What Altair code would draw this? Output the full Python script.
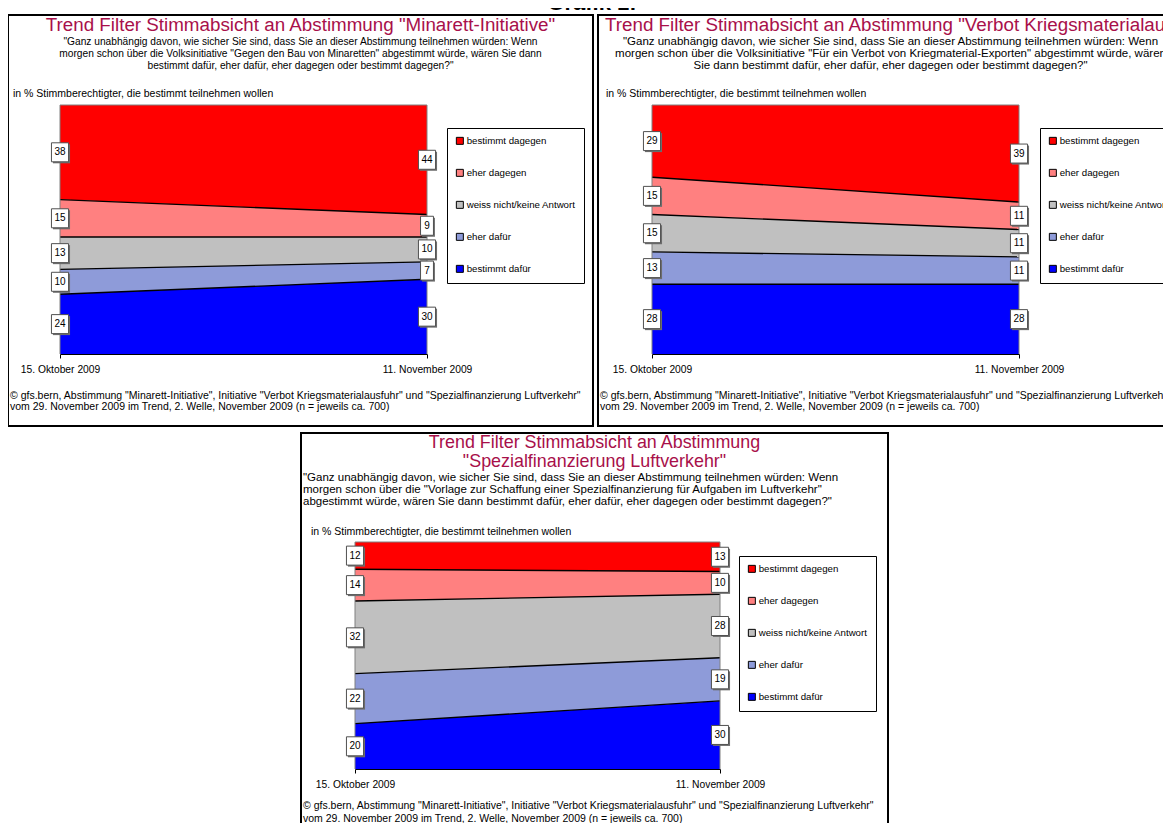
import altair as alt
import pandas as pd

FONT = "Liberation Sans"
TITLE_COLOR = "#A8104A"

HEADER = "Grafik 1:"
DATES = ["15. Oktober 2009", "11. November 2009"]
CATS = ["bestimmt dagegen", "eher dagegen", "weiss nicht/keine Antwort", "eher dafür", "bestimmt dafür"]
COLORS = ["#FF0000", "#FF8080", "#C0C0C0", "#8E9BD9", "#0000FF"]

# values listed in CATS order (top band first)
minarett_okt = [38, 15, 13, 10, 24]
minarett_nov = [44, 9, 10, 7, 30]
krieg_okt = [29, 15, 15, 13, 28]
krieg_nov = [39, 11, 11, 11, 28]
luft_okt = [12, 14, 32, 22, 20]
luft_nov = [13, 10, 28, 19, 30]

NOTE = "in % Stimmberechtigter, die bestimmt teilnehmen wollen"
FOOTER = [
    '© gfs.bern, Abstimmung "Minarett-Initiative", Initiative "Verbot Kriegsmaterialausfuhr" und "Spezialfinanzierung Luftverkehr"',
    "vom 29. November 2009 im Trend, 2. Welle, November 2009 (n = jeweils ca. 700)",
]

P1_TITLE = ['Trend Filter Stimmabsicht an Abstimmung "Minarett-Initiative"']
P1_SUB = [
    '"Ganz unabhängig davon, wie sicher Sie sind, dass Sie an dieser Abstimmung teilnehmen würden: Wenn',
    'morgen schon über die Volksinitiative "Gegen den Bau von Minaretten" abgestimmt würde, wären Sie dann',
    'bestimmt dafür, eher dafür, eher dagegen oder bestimmt dagegen?"',
]
P2_TITLE = ['Trend Filter Stimmabsicht an Abstimmung "Verbot Kriegsmaterialausfuhr"']
P2_SUB = [
    '"Ganz unabhängig davon, wie sicher Sie sind, dass Sie an dieser Abstimmung teilnehmen würden: Wenn',
    'morgen schon über die Volksinitiative "Für ein Verbot von Kriegmaterial-Exporten" abgestimmt würde, wären',
    'Sie dann bestimmt dafür, eher dafür, eher dagegen oder bestimmt dagegen?"',
]
P3_TITLE = ["Trend Filter Stimmabsicht an Abstimmung", '"Spezialfinanzierung Luftverkehr"']
P3_SUB = [
    '"Ganz unabhängig davon, wie sicher Sie sind, dass Sie an dieser Abstimmung teilnehmen würden: Wenn',
    'morgen schon über die "Vorlage zur Schaffung einer Spezialfinanzierung für Aufgaben im Luftverkehr"',
    'abgestimmt würde, wären Sie dann bestimmt dafür, eher dafür, eher dagegen oder bestimmt dagegen?"',
]


def build(okt, nov):
    rows = []
    for xi, (d, vals) in enumerate(zip(DATES, [okt, nov])):
        base = 0
        for i in reversed(range(len(CATS))):
            v = vals[i]
            rows.append(dict(xi=xi, date=d, cat=CATS[i], v=v, y0=base, y1=base + v, mid=base + v / 2))
            base += v
    return pd.DataFrame(rows)


def txt(line, x, y, size, align="center", color="black", weight="normal", baseline="middle"):
    return alt.Chart(pd.DataFrame({"k": [0]})).mark_text(
        align=align, baseline=baseline, fontSize=size, font=FONT, color=color, fontWeight=weight
    ).encode(x=alt.value(x), y=alt.value(y), text=alt.value(line))


BOX_W = "M-0.9,-1L0.9,-1L0.9,1L-0.9,1Z"
BOX_N = "M-0.68,-1L0.68,-1L0.68,1L-0.68,1Z"
LABEL_EXPR = " : ".join(
    [f"datum.value == {i} ? '{d}'" for i, d in enumerate(DATES[:-1])] + [f"'{DATES[-1]}'"])


def panel(okt, nov, W, H, xr, yr, titles, title_y, title_x, title_align, title_size,
          subs, sub_y, sub_x, sub_align, sub_size, note_xy, legend_xy, foot_y):
    df = build(okt, nov)
    X = alt.X("xi:Q", scale=alt.Scale(domain=[0, len(DATES) - 1], range=xr, nice=False, zero=False),
              axis=alt.Axis(title=None, values=list(range(len(DATES))), labelExpr=LABEL_EXPR,
                            labelAngle=0, domainColor="black", tickColor="black",
                            tickSize=4, labelFontSize=10.3, labelFont=FONT, labelColor="black",
                            labelPadding=6, offset=-(H - yr[0]), grid=False, labelFlush=False,
                            labelOverlap=False))
    ysc = alt.Scale(domain=[0, 100], range=yr, nice=False, zero=False)

    area = alt.Chart(df).mark_area(opacity=1, interpolate="linear").encode(
        x=X,
        y=alt.Y("y0:Q", scale=ysc, axis=None),
        y2="y1:Q",
        color=alt.Color("cat:N", scale=alt.Scale(domain=CATS, range=COLORS),
                        legend=alt.Legend(orient="none", legendX=legend_xy[0], legendY=legend_xy[1],
                                          title=None, strokeColor="black", fillColor="white",
                                          padding=8, rowPadding=20, symbolType="square",
                                          symbolSize=49, symbolStrokeColor="black",
                                          symbolStrokeWidth=1, labelFontSize=9.7, labelFont=FONT,
                                          labelColor="black", labelOffset=2)),
    )
    inner = alt.Chart(df[df.cat != CATS[0]]).mark_line(color="black", strokeWidth=1.4).encode(
        x=X, y=alt.Y("y1:Q", scale=ysc, axis=None), detail="cat:N")
    top = alt.Chart(df[df.cat == CATS[0]]).mark_line(color="#808080", strokeWidth=1).encode(
        x=X, y=alt.Y("y1:Q", scale=ysc, axis=None))
    ends = df.groupby("xi", as_index=False).agg(lo=("y0", "min"), hi=("y1", "max"))
    sides = alt.Chart(ends).mark_rule(color="#808080", strokeWidth=1).encode(
        x=X, y=alt.Y("lo:Q", scale=ysc, axis=None), y2="hi:Q")
    shape = alt.condition(alt.datum.v < 10, alt.value(BOX_N), alt.value(BOX_W))
    shadow = alt.Chart(df).mark_point(filled=True, color="#6e6e6e", opacity=1, size=361,
                                      xOffset=1.5, yOffset=1.5).encode(
        x=X, y=alt.Y("mid:Q", scale=ysc, axis=None), shape=shape)
    box = alt.Chart(df).mark_point(filled=True, fill="white", stroke="#505050", strokeWidth=1,
                                   opacity=1, size=361).encode(
        x=X, y=alt.Y("mid:Q", scale=ysc, axis=None), shape=shape)
    lab = alt.Chart(df).mark_text(fontSize=10, font=FONT, color="black").encode(
        x=X, y=alt.Y("mid:Q", scale=ysc, axis=None), text="v:Q")

    layers = [area, inner, top, sides, shadow, box, lab]
    for t, y in zip(titles, title_y):
        layers.append(txt(t, title_x, y, title_size, align=title_align, color=TITLE_COLOR))
    for s, y in zip(subs, sub_y):
        layers.append(txt(s, sub_x, y, sub_size, align=sub_align))
    layers.append(txt(NOTE, note_xy[0], note_xy[1], 10.5, align="left"))
    for f, y in zip(FOOTER, foot_y):
        layers.append(txt(f, 2, y, 10.5, align="left"))
    return alt.layer(*layers).properties(
        width=W, height=H, view=alt.ViewBackground(stroke="black", strokeWidth=2, fill="white"))


p1 = panel(minarett_okt, minarett_nov, 585, 411, [52, 419], [339, 90],
           P1_TITLE, [10], 292.5, "center", 18.8,
           P1_SUB, [27, 39, 51], 292.5, "center", 10.2, (5, 79), (439, 113), [381, 392])
p2 = panel(krieg_okt, krieg_nov, 585, 411, [54, 421], [339, 90],
           P2_TITLE, [10], 7, "left", 18.8,
           P2_SUB, [27, 39, 51], 292.5, "center", 11.5, (8, 79), (442, 113), [381, 392])
p3 = panel(luft_okt, luft_nov, 587, 411, [54, 419], [336, 109],
           P3_TITLE, [10, 29], 293.5, "center", 17.9,
           P3_SUB, [45, 57, 69], 2, "left", 11.5, (10, 99), (438, 123), [373, 386])

header = txt(HEADER, 584, 17, 22, weight="bold", baseline="alphabetic").properties(
    width=1150, height=20, view=alt.ViewBackground(stroke="transparent", fill="transparent"))

spacer = alt.Chart(pd.DataFrame({"k": [0]})).mark_point(opacity=0).encode(
    x=alt.value(0), y=alt.value(0)).properties(
    width=291, height=20, view=alt.ViewBackground(stroke="transparent", fill="transparent"))

top_row = alt.hconcat(p1, p2, spacing=3).resolve_scale(
    x="independent", y="independent", color="independent").resolve_legend(color="independent")
bottom_row = alt.hconcat(spacer, p3, spacing=0).resolve_scale(
    x="independent", y="independent", color="independent").resolve_legend(color="independent")

panels = alt.vconcat(top_row, bottom_row, spacing=2).resolve_scale(
    x="independent", y="independent", color="independent").resolve_legend(color="independent")

chart = alt.vconcat(header, panels, spacing=-2).resolve_scale(
    x="independent", y="independent", color="independent").resolve_legend(
    color="independent").properties(
    autosize=alt.AutoSizeParams(type="none"),
    padding={"top": -15, "left": 0, "right": 1155, "bottom": 830},
).configure(background="white")

chart.save("out.html", embed_options={"renderer": "svg", "actions": False})
